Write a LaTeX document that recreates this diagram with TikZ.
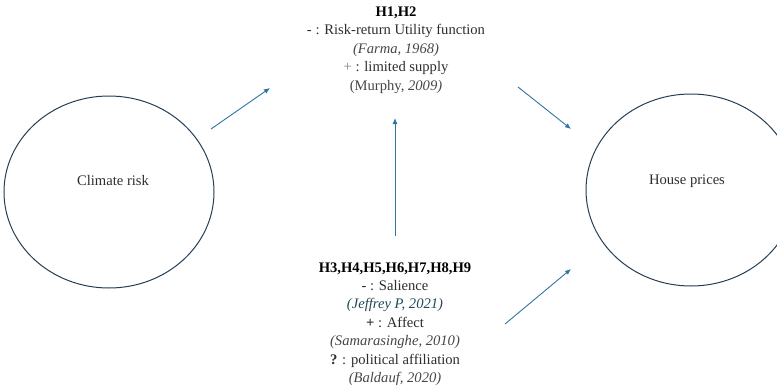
\documentclass[tikz,border=0pt]{standalone}
\usepackage{fontspec}
\setmainfont{Liberation Serif}
\usetikzlibrary{arrows.meta,positioning,shapes.geometric}
\definecolor{ringcol}{RGB}{38,62,84}
\definecolor{arrowcol}{RGB}{46,117,160}
\definecolor{textcol}{RGB}{45,45,45}
\definecolor{citecol}{RGB}{70,70,70}
\definecolor{tealcite}{RGB}{30,75,85}

\begin{document}
\begin{tikzpicture}[
		x=1pt, y=-1pt,
		ring/.style={draw=ringcol, line width=1pt, ellipse, inner sep=0pt, minimum width=210pt, minimum height=192pt},
		hyp/.style={align=center, text=textcol, font=\fontsize{14.6}{18.4}\selectfont},
		link/.style={draw=arrowcol, line width=0.9pt, -{Latex[length=6pt,width=5pt]}},
	]
		\useasboundingbox (0,0) rectangle (777,386);
		\clip (0,0) rectangle (777,386);

		\node[ring] (climate) at (109,192) {};
		\node[ring] (house) at (691,190) {};
		\node[text=textcol, font=\fontsize{14.6}{16}\selectfont] (climatelbl) at (113,181) {Climate risk};
		\node[text=textcol, font=\fontsize{14.6}{16}\selectfont] (houselbl) at (687,181) {House prices};

		\node[hyp] (top) at (396,50) {\textbf{\color{black}H1,H2}\\
			- : Risk-return Utility function\\
			{\color{citecol}\itshape (Farma, 1968)}\\
			{\color{gray}+} : limited supply\\
			{\color{citecol}(Murphy, \itshape 2009)}};
		\node[hyp] (bottom) at (395,324) {\textbf{\color{black}H3,H4,H5,H6,H7,H8,H9}\\
			- : Salience\\
			{\color{tealcite}\itshape (Jeffrey P, 2021)}\\
			\textbf{+} : Affect\\
			{\color{citecol}\itshape (Samarasinghe, 2010)}\\
			\textbf{?} : political affiliation\\
			{\color{citecol}\itshape (Baldauf, 2020)}};

		% arrow ends
		\coordinate (a1s) at (211,129);
		\coordinate (a1e) at (270,88);
		\coordinate (a2s) at (518,87);
		\coordinate (a2e) at (571,129);
		\coordinate (a3s) at (505,324);
		\coordinate (a3e) at (571,269);
		\coordinate (a4s) at (395,236);
		\coordinate (a4e) at (395,118);

		\draw[link] (a1s) -- (a1e);
		\draw[link] (a2s) -- (a2e);
		\draw[link] (a3s) -- (a3e);
		\draw[link] (a4s) -- (a4e);
	\end{tikzpicture}
\end{document}
